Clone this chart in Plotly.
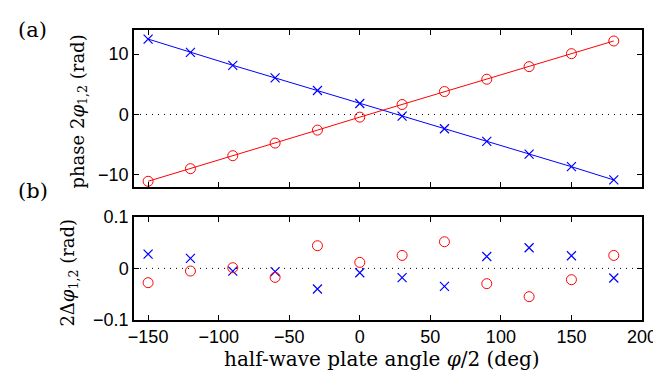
import plotly.graph_objects as go

angles = [-150, -120, -90, -60, -30, 0, 30, 60, 90, 120, 150, 180]
phase_blue = [12.5, 10.3, 8.15, 6.06, 3.97, 1.82, -0.28, -2.37, -4.46, -6.56, -8.65, -10.85]
phase_red = [-11.07, -8.98, -6.83, -4.74, -2.59, -0.44, 1.65, 3.80, 5.84, 7.93, 10.08, 12.18]
resid_blue = [0.0277, 0.0193, -0.0052, -0.0064, -0.040, -0.0084, -0.018, -0.035, 0.023, 0.040, 0.0245, -0.0187]
resid_red = [-0.0277, -0.0052, 0.0013, -0.0174, 0.0439, 0.0116, 0.0251, 0.0516, -0.0296, -0.0548, -0.0219, 0.0251]
x_ticks = [-150, -100, -50, 0, 50, 100, 150, 200]
top_yticks = [-10, 0, 10]
bot_yticks = [-0.1, 0, 0.1]

BLUE = "rgb(0,0,255)"
RED = "rgb(255,0,0)"
SERIF = "DejaVu Serif"
SANS = "Liberation Sans"

fig = go.Figure()
fig.add_trace(go.Scatter(x=angles, y=phase_blue, mode="lines+markers",
                         line=dict(color=BLUE, width=1),
                         marker=dict(symbol="x-thin", size=9, color=BLUE,
                                     line=dict(color=BLUE, width=1.2)),
                         xaxis="x", yaxis="y"))
fig.add_trace(go.Scatter(x=angles, y=phase_red, mode="lines+markers",
                         line=dict(color=RED, width=1),
                         marker=dict(symbol="circle-open", size=10, color=RED,
                                     line=dict(color=RED, width=1)),
                         xaxis="x", yaxis="y"))
fig.add_trace(go.Scatter(x=angles, y=resid_blue, mode="markers",
                         marker=dict(symbol="x-thin", size=9, color=BLUE,
                                     line=dict(color=BLUE, width=1.2)),
                         xaxis="x2", yaxis="y2"))
fig.add_trace(go.Scatter(x=angles, y=resid_red, mode="markers",
                         marker=dict(symbol="circle-open", size=10, color=RED,
                                     line=dict(color=RED, width=1)),
                         xaxis="x2", yaxis="y2"))

axis_common = dict(showline=True, linecolor="black", linewidth=1.5, mirror="ticks",
                   ticks="inside", ticklen=5, tickwidth=1, tickcolor="black",
                   showgrid=False, zeroline=False,
                   tickfont=dict(family=SANS, size=18, color="black"))

W, H = 661, 375
L, R, T, B = 126, 17, 20, 63
pw, ph = W - L - R, H - T - B

fig.update_layout(
    width=W, height=H,
    margin=dict(l=L, r=R, t=T, b=B),
    paper_bgcolor="white", plot_bgcolor="white",
    showlegend=False,
    xaxis=dict(domain=[0, 1], range=[-160, 200], tickvals=x_ticks,
               showticklabels=False, anchor="y", **axis_common),
    yaxis=dict(domain=[0.459, 1], range=[-12, 14], tickvals=top_yticks,
               anchor="x", **axis_common),
    xaxis2=dict(domain=[0, 1], range=[-160, 200], tickvals=x_ticks,
                anchor="y2", **axis_common),
    yaxis2=dict(domain=[0, 0.356], range=[-0.1, 0.1], tickvals=bot_yticks,
                anchor="x2", **axis_common),
)

for xr, yr in (("x domain", "y"), ("x2 domain", "y2")):
    fig.add_shape(type="line", xref=xr, yref=yr, x0=0, x1=1, y0=0, y1=0,
                  line=dict(color="black", width=1, dash="1px,5px"), layer="below")


def px_ann(text, px, py, size, angle=0):
    fig.add_annotation(text=text, xref="paper", yref="paper",
                       x=(px - L) / pw, y=(H - B - py) / ph,
                       xanchor="center", yanchor="middle", textangle=angle,
                       showarrow=False,
                       font=dict(family=SERIF, size=size, color="black"))


px_ann("half-wave plate angle <i>φ</i>/2 (deg)", 379, 351, 20)
px_ann("phase 2<i>φ</i><sub>1,2</sub> (rad)", 70, 102, 18, -90)
px_ann("2Δ<i>φ</i><sub>1,2</sub> (rad)", 60, 264, 18, -90)
px_ann("(a)", 23, 20, 21)
px_ann("(b)", 23, 182, 21)

fig.write_html("out.html")
